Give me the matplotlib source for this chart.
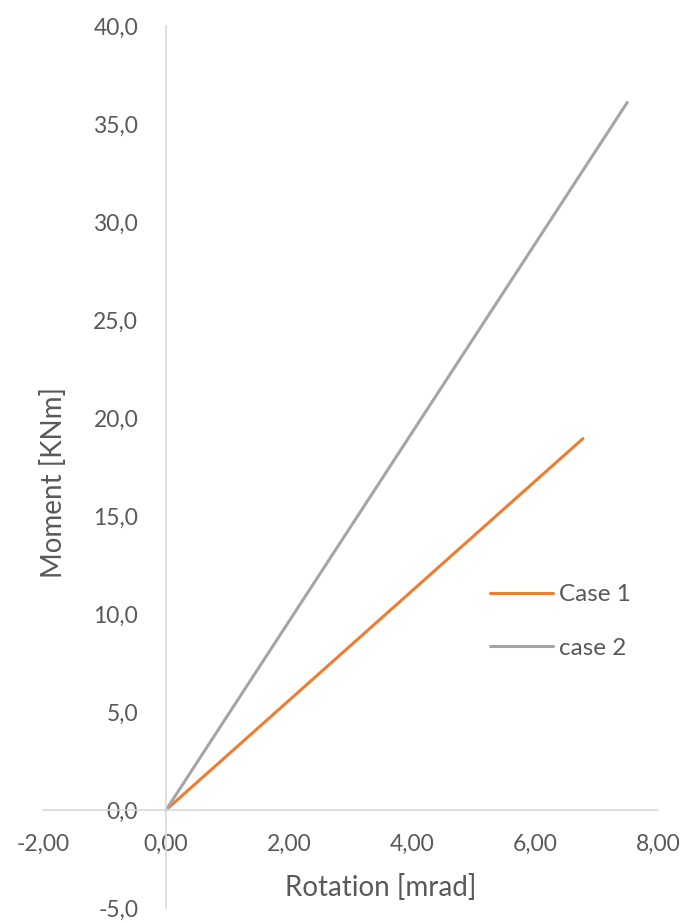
import matplotlib
matplotlib.use('Agg')
import matplotlib.pyplot as plt

# Moment vs rotation, two load cases
case1_rot = [0.0, 6.78]
case1_mom = [0.0, 18.95]
case2_rot = [0.0, 7.50]
case2_mom = [0.0, 36.1]

xticks = [-2, 0, 2, 4, 6, 8]
yticks = [-5, 0, 5, 10, 15, 20, 25, 30, 35, 40]

txt = '#595959'
plt.rcParams['font.family'] = ['Lato', 'DejaVu Sans']

W, H = 689, 922
fig = plt.figure(figsize=(W / 100, H / 100), dpi=100)
ax = fig.add_axes([43 / W, (H - 908) / H, (658 - 43) / W, (908 - 26) / H])

ax.plot(case1_rot, case1_mom, color='#ED7D31', lw=2.2, solid_capstyle='round', label='Case 1')
ax.plot(case2_rot, case2_mom, color='#A5A5A5', lw=2.2, solid_capstyle='round', label='case 2')

ax.set_xlim(-2, 8)
ax.set_ylim(-5, 40)
ax.set_xticks(xticks)
ax.set_yticks(yticks)
ax.set_xticklabels([f'{v:.2f}'.replace('.', ',') for v in xticks])
ax.set_yticklabels([f'{v:.1f}'.replace('.', ',') for v in yticks])

# spines crossing at zero, like the excel chart
ax.spines['left'].set_position(('data', 0))
ax.spines['bottom'].set_position(('data', 0))
ax.spines['right'].set_visible(False)
ax.spines['top'].set_visible(False)
for s in ['left', 'bottom']:
    ax.spines[s].set_color('#D9D9D9')
    ax.spines[s].set_linewidth(1.2)

ax.tick_params(axis='both', length=0, labelsize=16.5, labelcolor=txt)
ax.tick_params(axis='x', pad=17)
ax.tick_params(axis='y', pad=20)

fig.text(381 / W, 1 - 887 / H, 'Rotation [mrad]', ha='center', va='center', fontsize=20, color=txt)
fig.text(53 / W, 1 - 482 / H, 'Moment [KNm]', ha='center', va='center', rotation=90, fontsize=20, color=txt)

ax.legend(loc='center left', bbox_to_anchor=(490 / W, 1 - 621.5 / H), bbox_transform=fig.transFigure,
          frameon=False, fontsize=17.5, labelcolor=txt, handlelength=2.6, handletextpad=0.25,
          labelspacing=1.35, borderpad=0, borderaxespad=0)

fig.savefig('out.png', dpi=100)
